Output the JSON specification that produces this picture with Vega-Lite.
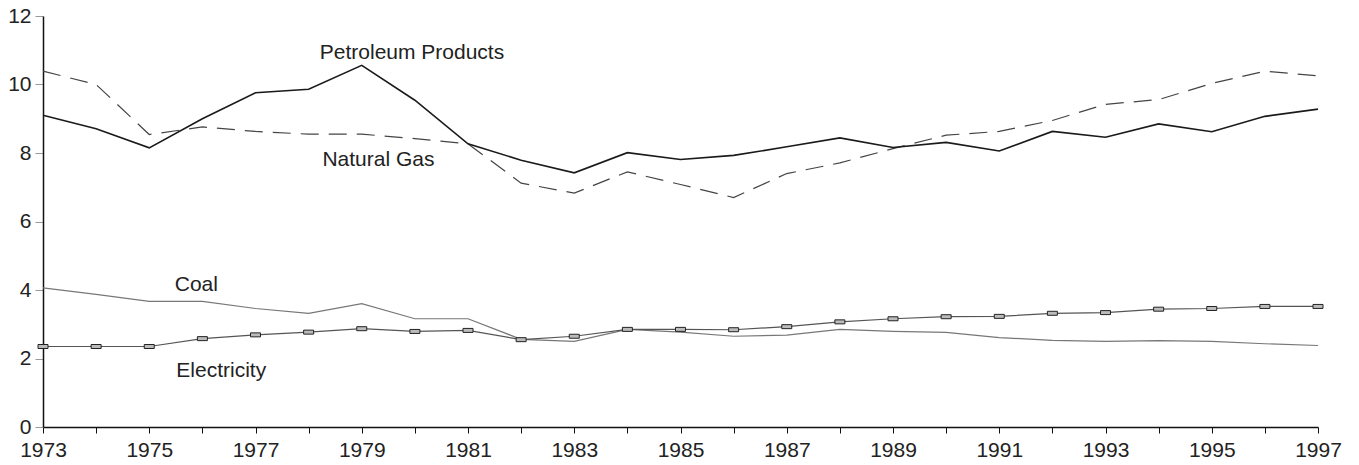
{
  "$schema": "https://vega.github.io/schema/vega-lite/v6.json",
  "width": 1275,
  "height": 411,
  "autosize": {"type": "none"},
  "padding": {"left": 43, "top": 16, "right": 41, "bottom": 38},
  "background": "white",
  "config": {
    "view": {"stroke": null},
    "font": "Liberation Sans",
    "axis": {"labelFont": "Liberation Sans", "labelFontSize": 21, "labelColor": "#222", "grid": false, "title": null}
  },
  "datasets": {
    "series": [
      {"year": 1973, "series": "Petroleum Products", "value": 9.10},
      {"year": 1974, "series": "Petroleum Products", "value": 8.71},
      {"year": 1975, "series": "Petroleum Products", "value": 8.15},
      {"year": 1976, "series": "Petroleum Products", "value": 9.00},
      {"year": 1977, "series": "Petroleum Products", "value": 9.76},
      {"year": 1978, "series": "Petroleum Products", "value": 9.86},
      {"year": 1979, "series": "Petroleum Products", "value": 10.56},
      {"year": 1980, "series": "Petroleum Products", "value": 9.54},
      {"year": 1981, "series": "Petroleum Products", "value": 8.27},
      {"year": 1982, "series": "Petroleum Products", "value": 7.79},
      {"year": 1983, "series": "Petroleum Products", "value": 7.42},
      {"year": 1984, "series": "Petroleum Products", "value": 8.01},
      {"year": 1985, "series": "Petroleum Products", "value": 7.81},
      {"year": 1986, "series": "Petroleum Products", "value": 7.93},
      {"year": 1987, "series": "Petroleum Products", "value": 8.18},
      {"year": 1988, "series": "Petroleum Products", "value": 8.44},
      {"year": 1989, "series": "Petroleum Products", "value": 8.16},
      {"year": 1990, "series": "Petroleum Products", "value": 8.31},
      {"year": 1991, "series": "Petroleum Products", "value": 8.06},
      {"year": 1992, "series": "Petroleum Products", "value": 8.63},
      {"year": 1993, "series": "Petroleum Products", "value": 8.46},
      {"year": 1994, "series": "Petroleum Products", "value": 8.85},
      {"year": 1995, "series": "Petroleum Products", "value": 8.62},
      {"year": 1996, "series": "Petroleum Products", "value": 9.07},
      {"year": 1997, "series": "Petroleum Products", "value": 9.28},
      {"year": 1973, "series": "Natural Gas", "value": 10.39},
      {"year": 1974, "series": "Natural Gas", "value": 10.00},
      {"year": 1975, "series": "Natural Gas", "value": 8.54},
      {"year": 1976, "series": "Natural Gas", "value": 8.76},
      {"year": 1977, "series": "Natural Gas", "value": 8.63},
      {"year": 1978, "series": "Natural Gas", "value": 8.55},
      {"year": 1979, "series": "Natural Gas", "value": 8.55},
      {"year": 1980, "series": "Natural Gas", "value": 8.42},
      {"year": 1981, "series": "Natural Gas", "value": 8.27},
      {"year": 1982, "series": "Natural Gas", "value": 7.12},
      {"year": 1983, "series": "Natural Gas", "value": 6.83},
      {"year": 1984, "series": "Natural Gas", "value": 7.45},
      {"year": 1985, "series": "Natural Gas", "value": 7.08},
      {"year": 1986, "series": "Natural Gas", "value": 6.70},
      {"year": 1987, "series": "Natural Gas", "value": 7.40},
      {"year": 1988, "series": "Natural Gas", "value": 7.71},
      {"year": 1989, "series": "Natural Gas", "value": 8.13},
      {"year": 1990, "series": "Natural Gas", "value": 8.52},
      {"year": 1991, "series": "Natural Gas", "value": 8.63},
      {"year": 1992, "series": "Natural Gas", "value": 8.95},
      {"year": 1993, "series": "Natural Gas", "value": 9.42},
      {"year": 1994, "series": "Natural Gas", "value": 9.56},
      {"year": 1995, "series": "Natural Gas", "value": 10.03},
      {"year": 1996, "series": "Natural Gas", "value": 10.39},
      {"year": 1997, "series": "Natural Gas", "value": 10.25},
      {"year": 1973, "series": "Coal", "value": 4.06},
      {"year": 1974, "series": "Coal", "value": 3.87},
      {"year": 1975, "series": "Coal", "value": 3.67},
      {"year": 1976, "series": "Coal", "value": 3.67},
      {"year": 1977, "series": "Coal", "value": 3.46},
      {"year": 1978, "series": "Coal", "value": 3.32},
      {"year": 1979, "series": "Coal", "value": 3.60},
      {"year": 1980, "series": "Coal", "value": 3.16},
      {"year": 1981, "series": "Coal", "value": 3.16},
      {"year": 1982, "series": "Coal", "value": 2.56},
      {"year": 1983, "series": "Coal", "value": 2.50},
      {"year": 1984, "series": "Coal", "value": 2.85},
      {"year": 1985, "series": "Coal", "value": 2.77},
      {"year": 1986, "series": "Coal", "value": 2.65},
      {"year": 1987, "series": "Coal", "value": 2.68},
      {"year": 1988, "series": "Coal", "value": 2.85},
      {"year": 1989, "series": "Coal", "value": 2.79},
      {"year": 1990, "series": "Coal", "value": 2.76},
      {"year": 1991, "series": "Coal", "value": 2.61},
      {"year": 1992, "series": "Coal", "value": 2.53},
      {"year": 1993, "series": "Coal", "value": 2.50},
      {"year": 1994, "series": "Coal", "value": 2.52},
      {"year": 1995, "series": "Coal", "value": 2.50},
      {"year": 1996, "series": "Coal", "value": 2.43},
      {"year": 1997, "series": "Coal", "value": 2.38},
      {"year": 1973, "series": "Electricity", "value": 2.35},
      {"year": 1974, "series": "Electricity", "value": 2.35},
      {"year": 1975, "series": "Electricity", "value": 2.35},
      {"year": 1976, "series": "Electricity", "value": 2.58},
      {"year": 1977, "series": "Electricity", "value": 2.69},
      {"year": 1978, "series": "Electricity", "value": 2.77},
      {"year": 1979, "series": "Electricity", "value": 2.87},
      {"year": 1980, "series": "Electricity", "value": 2.79},
      {"year": 1981, "series": "Electricity", "value": 2.82},
      {"year": 1982, "series": "Electricity", "value": 2.55},
      {"year": 1983, "series": "Electricity", "value": 2.65},
      {"year": 1984, "series": "Electricity", "value": 2.85},
      {"year": 1985, "series": "Electricity", "value": 2.85},
      {"year": 1986, "series": "Electricity", "value": 2.84},
      {"year": 1987, "series": "Electricity", "value": 2.93},
      {"year": 1988, "series": "Electricity", "value": 3.07},
      {"year": 1989, "series": "Electricity", "value": 3.16},
      {"year": 1990, "series": "Electricity", "value": 3.22},
      {"year": 1991, "series": "Electricity", "value": 3.23},
      {"year": 1992, "series": "Electricity", "value": 3.32},
      {"year": 1993, "series": "Electricity", "value": 3.34},
      {"year": 1994, "series": "Electricity", "value": 3.44},
      {"year": 1995, "series": "Electricity", "value": 3.46},
      {"year": 1996, "series": "Electricity", "value": 3.52},
      {"year": 1997, "series": "Electricity", "value": 3.52}
    ],
    "labels": [
      {"label": "Petroleum Products", "year": 1978.21, "value": 10.74},
      {"label": "Natural Gas", "year": 1978.26, "value": 7.62},
      {"label": "Coal", "year": 1975.48, "value": 3.96},
      {"label": "Electricity", "year": 1975.51, "value": 1.46}
    ]
  },
  "data": {"name": "series"},
  "encoding": {
    "x": {
      "field": "year", "type": "quantitative",
      "scale": {"domain": [1973, 1997], "nice": false, "zero": false},
      "axis": {
        "values": [1973,1974,1975,1976,1977,1978,1979,1980,1981,1982,1983,1984,1985,1986,1987,1988,1989,1990,1991,1992,1993,1994,1995,1996,1997],
        "labelExpr": "datum.value % 2 == 1 ? datum.label : ''",
        "format": "d",
        "domainColor": "#111", "domainWidth": 1.5,
        "tickColor": "#111", "tickSize": 6, "tickWidth": 1,
        "labelPadding": 6, "labelFlush": false, "labelOverlap": false
      }
    },
    "y": {
      "field": "value", "type": "quantitative",
      "scale": {"domain": [0, 12], "nice": false},
      "axis": {
        "values": [0, 2, 4, 6, 8, 10, 12],
        "domainColor": "#111", "domainWidth": 1.5,
        "tickColor": "#999", "tickSize": 8, "tickWidth": 1,
        "labelPadding": 4
      }
    }
  },
  "layer": [
    {
      "mark": {"type": "rule", "color": "#999", "strokeWidth": 1.5},
      "data": {"values": [{}]},
      "encoding": {"x": {"datum": 1973}, "x2": {"datum": 1997}, "y": {"datum": 12}}
    },
    {
      "mark": {"type": "rule", "color": "#333", "strokeWidth": 1.5},
      "data": {"values": [{}]},
      "encoding": {"x": {"datum": 1997}, "y": {"datum": 0}, "y2": {"datum": 12}}
    },
    {
      "transform": [{"filter": "datum.series == 'Coal'"}],
      "mark": {"type": "line", "color": "#777", "strokeWidth": 1.2}
    },
    {
      "transform": [{"filter": "datum.series == 'Electricity'"}],
      "mark": {"type": "line", "color": "#555", "strokeWidth": 1.2}
    },
    {
      "transform": [{"filter": "datum.series == 'Electricity'"}],
      "mark": {"type": "point", "shape": "M-1,-0.4H1V0.4H-1Z", "size": 100, "filled": true, "fill": "#bbb", "stroke": "#222", "strokeWidth": 1, "opacity": 1}
    },
    {
      "transform": [{"filter": "datum.series == 'Natural Gas'"}],
      "mark": {"type": "line", "color": "#444", "strokeWidth": 1.2, "strokeDash": [18, 10]}
    },
    {
      "transform": [{"filter": "datum.series == 'Petroleum Products'"}],
      "mark": {"type": "line", "color": "#1a1a1a", "strokeWidth": 1.6}
    },
    {
      "data": {"name": "labels"},
      "mark": {"type": "text", "align": "left", "baseline": "alphabetic", "fontSize": 21, "font": "Liberation Sans", "color": "#222"},
      "encoding": {"text": {"field": "label"}}
    }
  ]
}
